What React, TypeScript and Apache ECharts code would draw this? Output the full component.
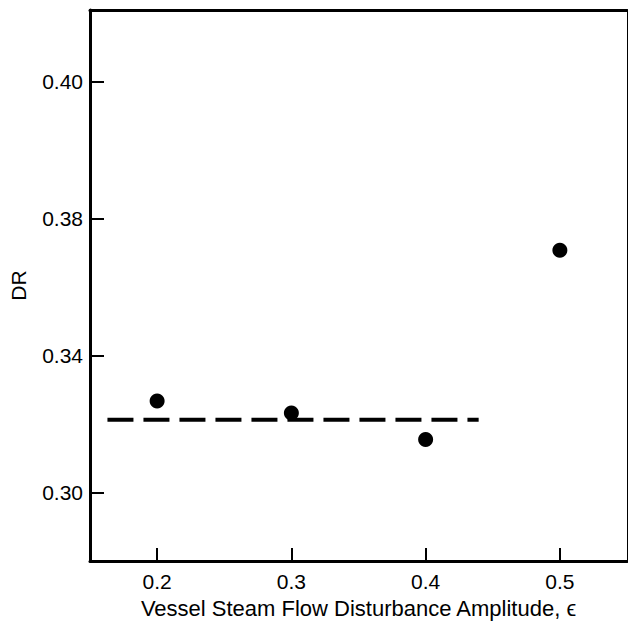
import React, { useEffect, useRef } from "react";
import * as echarts from "echarts";

// Measured decay ratio (DR) against vessel steam flow disturbance amplitude
const amplitude = [0.2, 0.3, 0.4, 0.5];
const decayRatio = [0.3268, 0.3233, 0.3155, 0.3708];

// Dashed reference level and the amplitude range it spans
const fitRange = [0.163, 0.4395];
const fitLevel = 0.3213;

// Axis ticks and their printed labels
const xTickValues = [0.2, 0.3, 0.4, 0.5];
const yTickValues = [0.3, 0.34, 0.38, 0.42];
const yTickLabels = ["0.30", "0.34", "0.38", "0.40"];

const FONT = "'Liberation Sans', Arial, Helvetica, sans-serif";

export default function App() {
  const ref = useRef<HTMLDivElement>(null);

  useEffect(() => {
    document.body.style.margin = "0";
    if (!ref.current) return;
    const chart = echarts.init(ref.current, undefined, { renderer: "svg" });

    const points = amplitude.map((a, i) => [a, decayRatio[i]]);
    const fitLine = fitRange.map((a) => [a, fitLevel]);

    chart.setOption({
      animation: false,
      backgroundColor: "#ffffff",
      grid: { left: 89, right: 1, top: 10, bottom: 61, containLabel: false },
      xAxis: [
        {
          type: "value",
          min: 0.15,
          max: 0.55,
          name: "Vessel Steam Flow Disturbance Amplitude, \u03f5",
          nameLocation: "middle",
          nameGap: 33,
          nameTextStyle: { color: "#000", fontSize: 22, fontFamily: FONT },
          axisLine: { show: true, onZero: false, lineStyle: { color: "#000", width: 3 } },
          axisTick: {
            show: true,
            inside: true,
            length: 13,
            customValues: xTickValues,
            lineStyle: { color: "#000", width: 2 },
          },
          axisLabel: {
            show: true,
            margin: 10,
            color: "#000",
            fontSize: 21,
            fontFamily: FONT,
            customValues: xTickValues,
            formatter: (v: number) => v.toFixed(1),
          },
          splitLine: { show: false },
        },
        {
          // top frame edge
          type: "value",
          position: "top",
          min: 0.15,
          max: 0.55,
          axisLine: { show: true, onZero: false, lineStyle: { color: "#000", width: 3 } },
          axisTick: { show: false },
          axisLabel: { show: false },
          splitLine: { show: false },
        },
      ],
      yAxis: [
        {
          type: "value",
          min: 0.28,
          max: 0.441,
          name: "DR",
          nameLocation: "middle",
          nameGap: 61,
          nameTextStyle: { color: "#000", fontSize: 21, fontFamily: FONT },
          axisLine: { show: true, onZero: false, lineStyle: { color: "#000", width: 3 } },
          axisTick: {
            show: true,
            inside: true,
            length: 14,
            customValues: yTickValues,
            lineStyle: { color: "#000", width: 2 },
          },
          axisLabel: {
            show: true,
            margin: 7,
            color: "#000",
            fontSize: 21,
            fontFamily: FONT,
            customValues: yTickValues,
            formatter: (v: number) => {
              const i = yTickValues.findIndex((t) => Math.abs(t - v) < 1e-6);
              return i >= 0 ? yTickLabels[i] : "";
            },
          },
          splitLine: { show: false },
        },
        {
          // right frame edge
          type: "value",
          position: "right",
          min: 0.28,
          max: 0.441,
          axisLine: { show: true, onZero: false, lineStyle: { color: "#000", width: 1 } },
          axisTick: { show: false },
          axisLabel: { show: false },
          splitLine: { show: false },
        },
      ],
      series: [
        {
          type: "line",
          data: fitLine,
          showSymbol: false,
          symbol: "none",
          lineStyle: { color: "#000", width: 4, type: [26, 10], cap: "butt" },
          silent: true,
          z: 2,
        },
        {
          type: "scatter",
          data: points,
          symbol: "circle",
          symbolSize: 15,
          itemStyle: { color: "#000", opacity: 1 },
          z: 3,
        },
      ],
    });

    return () => chart.dispose();
  }, []);

  return <div ref={ref} style={{ width: 628, height: 624 }} />;
}
